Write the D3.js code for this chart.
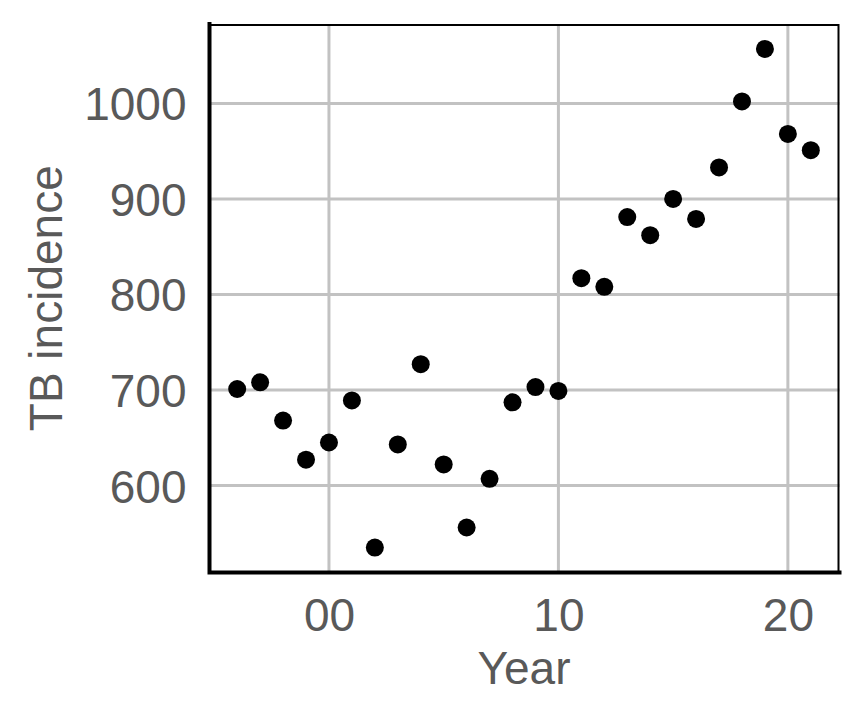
<!DOCTYPE html>
<html>
<head>
<meta charset="utf-8">
<script src="https://cdn.jsdelivr.net/npm/d3@7"></script>
<style>
  body { margin: 0; background: #fff; }
  text { font-family: "Liberation Sans", Arial, Helvetica, sans-serif; fill: #595959; }
</style>
</head>
<body>
<div id="graph"></div>
<script>
// TB incidence per year
var years = [1996, 1997, 1998, 1999, 2000, 2001, 2002, 2003, 2004, 2005, 2006, 2007, 2008,
             2009, 2010, 2011, 2012, 2013, 2014, 2015, 2016, 2017, 2018, 2019, 2020, 2021];
var incidence = [701, 708, 668, 627, 645, 689, 535, 643, 727, 622, 556, 607, 687,
                 703, 699, 817, 808, 881, 862, 900, 879, 933, 1002, 1057, 968, 951];
var xTicks = [2000, 2010, 2020];
var yTicks = [600, 700, 800, 900, 1000];

var width = 864;
var height = 720;
var pLeft = 208.5, pRight = 839.5, pTop = 24, pBottom = 572.5;
var fontSize = 46;

var svg = d3.select("div#graph")
    .append("svg")
    .attr("width", width)
    .attr("height", height);

var points = years.map(function(y, i) { return {year: y, value: incidence[i]}; });

// ggplot-style 5% expansion
var xExt = d3.extent(years), xPad = (xExt[1] - xExt[0]) * 0.05;
var yExt = d3.extent(incidence), yPad = (yExt[1] - yExt[0]) * 0.05;

var x = d3.scaleLinear()
    .domain([xExt[0] - xPad, xExt[1] + xPad])
    .range([pLeft, pRight]);
var y = d3.scaleLinear()
    .domain([yExt[0] - yPad, yExt[1] + yPad])
    .range([pBottom, pTop]);

// grid
svg.selectAll("line.vgrid")
    .data(xTicks)
    .enter()
    .append("line")
    .attr("class", "vgrid")
    .attr("x1", d => x(d)).attr("x2", d => x(d))
    .attr("y1", pTop).attr("y2", pBottom)
    .attr("stroke", "#c2c2c2")
    .attr("stroke-width", 3);

svg.selectAll("line.hgrid")
    .data(yTicks)
    .enter()
    .append("line")
    .attr("class", "hgrid")
    .attr("x1", pLeft).attr("x2", pRight)
    .attr("y1", d => y(d)).attr("y2", d => y(d))
    .attr("stroke", "#c2c2c2")
    .attr("stroke-width", 3);

// panel border (thin top/right)
svg.append("path")
    .attr("d", "M" + pLeft + "," + (pTop + 1) + "H" + (pRight - 1) + "V" + pBottom)
    .attr("fill", "none")
    .attr("stroke", "#000")
    .attr("stroke-width", 2);

// axes
var xAxis = d3.axisBottom(x)
    .tickValues(xTicks)
    .tickSize(0)
    .tickPadding(0)
    .tickFormat(d => d3.format("02d")(d % 100));
var yAxis = d3.axisLeft(y)
    .tickValues(yTicks)
    .tickSize(0)
    .tickPadding(0)
    .tickFormat(d3.format("d"));

var gx = svg.append("g")
    .attr("transform", "translate(0," + pBottom + ")")
    .call(xAxis);
gx.select(".domain").remove();
gx.selectAll("text")
    .attr("y", 58)
    .attr("dy", null)
    .attr("font-size", fontSize)
    .attr("font-family", null)
    .style("fill", "#595959");

var gy = svg.append("g")
    .attr("transform", "translate(" + pLeft + ",0)")
    .call(yAxis);
gy.select(".domain").remove();
gy.selectAll("text")
    .attr("x", -22)
    .attr("dy", "0.36em")
    .attr("font-size", fontSize)
    .attr("font-family", null)
    .style("fill", "#595959");

// axis lines (thick left/bottom)
svg.append("path")
    .attr("d", "M" + (pLeft + 1) + "," + pTop + "V" + pBottom + "H" + pRight)
    .attr("fill", "none")
    .attr("stroke", "#000")
    .attr("stroke-width", 4)
    .attr("stroke-linecap", "square");

// points
svg.selectAll("circle.pt")
    .data(points)
    .enter()
    .append("circle")
    .attr("class", "pt")
    .attr("cx", d => x(d.year))
    .attr("cy", d => y(d.value))
    .attr("r", 9)
    .attr("fill", "#000");

// titles
svg.append("text")
    .attr("x", (pLeft + pRight) / 2)
    .attr("y", 684)
    .attr("text-anchor", "middle")
    .attr("font-size", fontSize)
    .text("Year");

svg.append("text")
    .attr("transform", "translate(62," + ((pTop + pBottom) / 2) + ") rotate(-90)")
    .attr("text-anchor", "middle")
    .attr("font-size", fontSize)
    .text("TB incidence");
</script>
</body>
</html>
